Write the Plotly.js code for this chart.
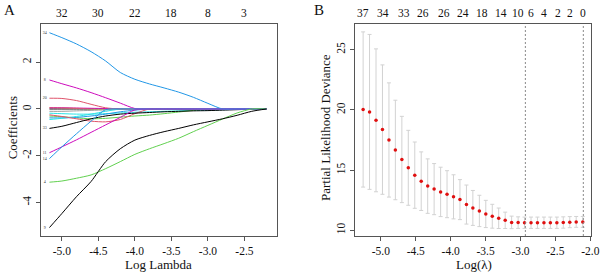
<!DOCTYPE html>
<html><head><meta charset="utf-8">
<script src="https://cdn.plot.ly/plotly-3.0.1.min.js"></script>
<style>html,body{margin:0;padding:0;background:#fff;}#chart{width:600px;height:274px;}</style>
</head><body><div id="chart"></div>
<script>
// ---------- Panel A: coefficient paths ----------
const lamA = [-5.17,-5.0,-4.8,-4.6,-4.4,-4.2,-4.0,-3.8,-3.6,-3.4,-3.2,-3.0,-2.8,-2.6,-2.4,-2.2];
const coefZero   = [0,0,0,0,0,0,0,0,0,0,0,0,0,0,0,0];
const coefBlueHi = [3.26,3.05,2.78,2.45,2.05,1.56,1.27,1.07,0.9,0.72,0.5,0.24,0,0,0,0];
const coefMagHi  = [1.24,1.08,0.9,0.7,0.48,0.25,0.02,0,0,0,0,0,0,0,0,0];
const coefRedHi  = [0.46,0.45,0.36,0.2,0.05,0,0,0,0,0,0,0,0,0,0,0];
const coefYel    = [0.06,0.05,0.03,0.01,0,0,0,0,0,0,0,0,0,0,0,0];
const coefMagS   = [0.05,0.05,0.04,0.03,0.02,0.01,0,0,0,0,0,0,0,0,0,0];
const coefGray   = [-0.1,-0.1,-0.08,-0.06,-0.04,-0.02,0,0,0,0,0,0,0,0,0,0];
const coefCyanS  = [-0.18,-0.2,-0.22,-0.22,-0.2,-0.17,-0.14,-0.12,-0.1,-0.08,-0.06,-0.05,-0.03,-0.02,0,0];
const coefGreenS = [-0.3,-0.33,-0.38,-0.42,-0.4,-0.35,-0.3,-0.26,-0.2,-0.13,-0.06,0,0,0,0,0];
const coefBlueS  = [-0.38,-0.38,-0.36,-0.3,-0.22,-0.12,-0.05,0,0,0,0,0,0,0,0,0];
const coefCyan2  = [-0.45,-0.4,-0.32,-0.22,-0.1,0,0,0,0,0,0,0,0,0,0,0];
const coefRedLo  = [-0.25,-0.32,-0.42,-0.52,-0.55,-0.45,-0.2,0,0,0,0,0,0,0,0,0];
const coefBlkLo  = [-0.83,-0.74,-0.58,-0.42,-0.3,-0.22,-0.18,-0.15,-0.12,-0.1,-0.08,-0.07,-0.05,-0.03,-0.01,0];
const coefMagLo  = [-1.87,-1.62,-1.32,-1.0,-0.68,-0.36,-0.04,0,0,0,0,0,0,0,0,0];
const coefBlueLo = [-2.12,-1.62,-1.06,-0.52,-0.03,0,0,0,0,0,0,0,0,0,0,0];
const coefGreen  = [-3.13,-3.08,-2.96,-2.82,-2.55,-2.25,-1.94,-1.7,-1.48,-1.25,-0.97,-0.7,-0.43,-0.17,0,0];
const coefBlack  = [-5.07,-4.47,-3.75,-3.1,-2.25,-1.7,-1.33,-1.13,-0.97,-0.83,-0.68,-0.55,-0.42,-0.27,-0.1,0];

const pathSeries = [
  [coefZero,'#000000'],[coefYel,'#F5C710'],[coefMagS,'#CD0BBC'],[coefGray,'#9E9E9E'],
  [coefCyanS,'#28E2E5'],[coefGreenS,'#61D04F'],[coefBlueS,'#2297E6'],[coefCyan2,'#28E2E5'],
  [coefRedLo,'#DF536B'],[coefBlkLo,'#000000'],[coefRedHi,'#DF536B'],[coefMagHi,'#CD0BBC'],
  [coefBlueHi,'#2297E6'],[coefMagLo,'#CD0BBC'],[coefBlueLo,'#2297E6'],[coefGreen,'#61D04F'],
  [coefBlack,'#000000']
];
const varLabels = ['34','8','20','33','11','14','4','9'];
const varLabelY = [3.26,1.24,0.46,-0.83,-1.87,-2.12,-3.13,-5.07];

const tickA = [-5.0,-4.5,-4.0,-3.5,-3.0,-2.5];
const tickAText = ['-5.0','-4.5','-4.0','-3.5','-3.0','-2.5'];
const topAText = ['32','30','22','18','8','3'];
const ytickA = [-4,-2,0,2];
const ytickAText = ['-4','-2','0','2'];

// ---------- Panel B: cross-validation ----------
const lamB = [-5.254,-5.162,-5.069,-4.977,-4.884,-4.792,-4.699,-4.607,-4.514,-4.422,-4.329,-4.237,-4.144,-4.052,-3.959,-3.867,-3.774,-3.682,-3.589,-3.497,-3.404,-3.312,-3.219,-3.127,-3.034,-2.942,-2.849,-2.757,-2.664,-2.572,-2.479,-2.387,-2.294,-2.202,-2.108];
const cvm = [20.03,19.83,19.13,18.36,17.5,16.67,15.88,15.19,14.58,14.08,13.67,13.42,13.19,13.0,12.78,12.55,12.14,11.86,11.61,11.36,11.17,11.0,10.83,10.66,10.64,10.63,10.63,10.63,10.63,10.63,10.63,10.65,10.68,10.7,10.7];
const cvsd = [6.44,6.43,5.93,5.37,4.74,4.13,3.58,3.11,2.75,2.43,2.26,2.12,2.05,1.95,1.83,1.66,1.62,1.45,1.3,1.13,0.99,0.85,0.68,0.52,0.48,0.47,0.47,0.47,0.47,0.47,0.47,0.47,0.46,0.45,0.45];
const lamMin = -2.93, lam1se = -2.10;
const tickB = [-5.0,-4.5,-4.0,-3.5,-3.0,-2.5,-2.0];
const tickBText = ['-5.0','-4.5','-4.0','-3.5','-3.0','-2.5','-2.0'];
const topBPos = [-5.254,-4.967,-4.666,-4.393,-4.096,-3.819,-3.547,-3.278,-3.030,-2.848,-2.657,-2.465,-2.288,-2.106];
const topBText = ['37','34','33','26','26','24','18','14','10','6','4','2','2','0'];
const ytickB = [10,15,20,25];

const FONT = '"Liberation Serif", "Times New Roman", Times, serif';
const traces = [];
pathSeries.forEach(([vals,col]) => {
  traces.push({x: lamA, y: vals, xaxis:'x', yaxis:'y', type:'scatter', mode:'lines',
    line:{color:col, width:1, shape:'spline', smoothing:0.7}, hoverinfo:'skip', showlegend:false});
});
traces.push({x: varLabels.map(()=> -5.235), y: varLabelY, text: varLabels, mode:'text', xaxis:'x', yaxis:'y',
  textfont:{size:4, color:'#333', family:FONT}, showlegend:false, hoverinfo:'skip'});
traces.push({x: lamB, y: cvm, xaxis:'x2', yaxis:'y2', type:'scatter', mode:'markers',
  marker:{color:'#e01010', size:3.5},
  error_y:{type:'data', array:cvsd, visible:true, color:'#d2d2d2', thickness:1, width:2},
  showlegend:false, hoverinfo:'skip'});

const axCommon = {showgrid:false, zeroline:false, showline:true, mirror:true, linecolor:'#555', linewidth:1,
  ticks:'outside', ticklen:4, tickcolor:'#555', tickfont:{family:FONT, size:11.5, color:'#111'}};
const domX1 = [0.0678,0.4612], domX2 = [0.5917,0.985], domY = [0.1387,0.9113];
const topY = 1 - 13.3/274;

const annotations = [
  {text:'Log Lambda', x:0.2645, y:1-264.7/274, xref:'paper', yref:'paper', showarrow:false, font:{size:13, color:'#111'}, xanchor:'center', yanchor:'middle'},
  {text:'Coefficients', x:12.3/600, y:1-128/274, xref:'paper', yref:'paper', showarrow:false, textangle:-90, font:{size:13, color:'#111'}, xanchor:'center', yanchor:'middle'},
  {text:'Log(λ)', x:474/600, y:1-264.7/274, xref:'paper', yref:'paper', showarrow:false, font:{size:13, color:'#111'}, xanchor:'center', yanchor:'middle'},
  {text:'Partial Likelihood Deviance', x:325/600, y:1-128/274, xref:'paper', yref:'paper', showarrow:false, textangle:-90, font:{size:13, color:'#111'}, xanchor:'center', yanchor:'middle'},
  {text:'A', x:9/600, y:1-10/274, xref:'paper', yref:'paper', showarrow:false, font:{size:15, color:'#111'}, xanchor:'center', yanchor:'middle'},
  {text:'B', x:318.5/600, y:1-10/274, xref:'paper', yref:'paper', showarrow:false, font:{size:15, color:'#111'}, xanchor:'center', yanchor:'middle'}
];
tickA.forEach((v,i) => annotations.push({text:topAText[i], x:v, xref:'x', y:topY, yref:'paper', showarrow:false,
  font:{size:11.5, color:'#111'}, xanchor:'center', yanchor:'middle'}));
topBPos.forEach((v,i) => annotations.push({text:topBText[i], x:v, xref:'x2', y:topY, yref:'paper', showarrow:false,
  font:{size:11.5, color:'#111'}, xanchor:'center', yanchor:'middle'}));

const layout = {
  width:600, height:274, margin:{l:0,r:0,t:0,b:0}, paper_bgcolor:'#fff', plot_bgcolor:'#fff',
  showlegend:false, font:{family:FONT},
  xaxis: Object.assign({}, axCommon, {domain:domX1, range:[-5.29,-2.058], tickmode:'array', tickvals:tickA, ticktext:tickAText, anchor:'y'}),
  yaxis: Object.assign({}, axCommon, {domain:domY, range:[-5.43,3.62], tickmode:'array', tickvals:ytickA, ticktext:ytickAText, tickangle:-90, anchor:'x'}),
  xaxis2: Object.assign({}, axCommon, {domain:domX2, range:[-5.37,-1.99], tickmode:'array', tickvals:tickB, ticktext:tickBText, anchor:'y2'}),
  yaxis2: Object.assign({}, axCommon, {domain:domY, range:[9.53,27.1], tickmode:'array', tickvals:ytickB, ticktext:ytickB.map(String), tickangle:-90, anchor:'x2'}),
  shapes: [lamMin, lam1se].map(v => ({type:'line', xref:'x2', yref:'y2 domain', x0:v, x1:v, y0:0, y1:1,
    line:{color:'#888', width:1, dash:'2px,2px'}})),
  annotations: annotations
};
Plotly.newPlot('chart', traces, layout, {staticPlot:true, displayModeBar:false});
</script></body></html>
